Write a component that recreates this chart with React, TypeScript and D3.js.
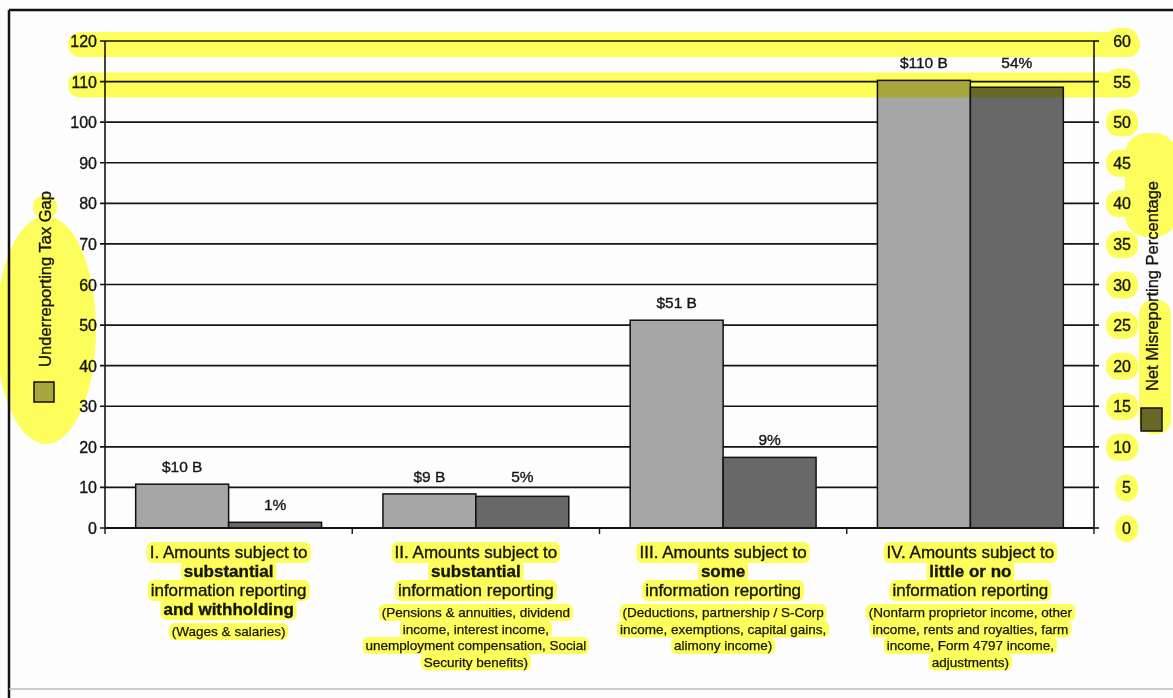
import React, { useEffect, useRef } from 'react';
import * as d3 from 'd3';

// values
const categories = ['I', 'II', 'III', 'IV'];
const gapValues = [10.8, 8.4, 51.2, 110.3];
const gapLabels = ['$10 B', '$9 B', '$51 B', '$110 B'];
const pctValues = [0.7, 3.9, 8.7, 54.3];
const pctLabels = ['1%', '5%', '9%', '54%'];
const leftTicks = [0, 10, 20, 30, 40, 50, 60, 70, 80, 90, 100, 110, 120];
const rightTicks = [0, 5, 10, 15, 20, 25, 30, 35, 40, 45, 50, 55, 60];
const highlightedLeftTicks = [120, 110];

const catTitles: [string, boolean][][] = [
  [['I. Amounts subject to', false], ['substantial', true], ['information reporting', false], ['and withholding', true]],
  [['II. Amounts subject to', false], ['substantial', true], ['information reporting', false]],
  [['III. Amounts subject to', false], ['some', true], ['information reporting', false]],
  [['IV. Amounts subject to', false], ['little or no', true], ['information reporting', false]],
];
const catNotes = [
  ['(Wages & salaries)'],
  ['(Pensions & annuities, dividend', 'income, interest income,', 'unemployment compensation, Social', 'Security benefits)'],
  ['(Deductions, partnership / S-Corp', 'income, exemptions, capital gains,', 'alimony income)'],
  ['(Nonfarm proprietor income, other', 'income, rents and royalties, farm', 'income, Form 4797 income,', 'adjustments)'],
];

const W = 1173;
const H = 698;
const FONT = '"Liberation Sans", Arial, sans-serif';
const YELLOW = '#ffff5c';
const INK = '#151515';

const App: React.FC = () => {
  const svgRef = useRef<SVGSVGElement>(null);

  useEffect(() => {
    if (!svgRef.current) return;
    const root = d3.select(svgRef.current);
    root.selectAll('*').remove();

    const left = 105, right = 1094, top = 41, bottom = 528;
    const y = d3.scaleLinear().domain([0, 120]).range([bottom, top]);
    const yR = d3.scaleLinear().domain([0, 60]).range([bottom, top]);
    const x0 = d3.scaleBand<string>().domain(categories).range([left, right]);
    const x1 = d3.scaleBand<string>().domain(['gap', 'pct']).range([0, x0.bandwidth()]).paddingOuter(0.33);

    root.append('rect').attr('width', W).attr('height', H).attr('fill', '#fdfdfd');

    // frame of the scanned page
    root.append('line').attr('x1', 9).attr('x2', W).attr('y1', 10).attr('y2', 10).attr('stroke', '#111').attr('stroke-width', 2.5);
    root.append('line').attr('x1', 9).attr('x2', 9).attr('y1', 10).attr('y2', H).attr('stroke', '#111').attr('stroke-width', 2.5);
    root.append('line').attr('x1', 9).attr('x2', W).attr('y1', 689).attr('y2', 689).attr('stroke', '#bbb').attr('stroke-width', 1.5);

    const g = root.append('g');
    const txt = (sel: d3.Selection<SVGTextElement, unknown, null, undefined>, size: number) =>
      sel.attr('font-family', FONT).attr('font-size', size).attr('fill', INK)
        .attr('stroke', INK).attr('stroke-width', 0.35);

    // grid + left ticks
    leftTicks.forEach(t => {
      g.append('line').attr('x1', left - 5).attr('x2', right).attr('y1', y(t)).attr('y2', y(t))
        .attr('stroke', '#141414').attr('stroke-width', 1.6);
      txt(g.append('text').attr('x', 97).attr('y', y(t) + 6).attr('text-anchor', 'end'), 16).text(t);
    });
    rightTicks.forEach(t => {
      g.append('line').attr('x1', right).attr('x2', right + 5).attr('y1', yR(t)).attr('y2', yR(t))
        .attr('stroke', '#141414').attr('stroke-width', 1.6);
    });
    g.append('line').attr('x1', left).attr('x2', left).attr('y1', top).attr('y2', bottom).attr('stroke', '#141414').attr('stroke-width', 1.6);
    g.append('line').attr('x1', right).attr('x2', right).attr('y1', top).attr('y2', bottom).attr('stroke', '#141414').attr('stroke-width', 1.6);
    [...categories.map(c => x0(c)!), right].forEach(xv => {
      g.append('line').attr('x1', xv).attr('x2', xv).attr('y1', bottom).attr('y2', bottom + 6).attr('stroke', '#141414').attr('stroke-width', 1.4);
    });

    // bars
    categories.forEach((c, i) => {
      const bx = x0(c)!;
      const yGap = y(gapValues[i]);
      const yPct = yR(pctValues[i]);
      g.append('rect').attr('x', bx + x1('gap')!).attr('y', yGap).attr('width', x1.bandwidth())
        .attr('height', bottom - yGap).attr('fill', '#a6a6a6').attr('stroke', '#111').attr('stroke-width', 1.5);
      g.append('rect').attr('x', bx + x1('pct')!).attr('y', yPct).attr('width', x1.bandwidth())
        .attr('height', bottom - yPct).attr('fill', '#686868').attr('stroke', '#111').attr('stroke-width', 1.5);
      // labels of neighbouring bars of similar height share one baseline
      const close = Math.abs(yGap - yPct) < 12;
      const yLabGap = close ? Math.min(yGap, yPct) - 12 : yGap - 12;
      const yLabPct = close ? Math.min(yGap, yPct) - 12 : yPct - 12;
      txt(g.append('text').attr('x', bx + x1('gap')! + x1.bandwidth() / 2).attr('y', yLabGap)
        .attr('text-anchor', 'middle'), 15.5).text(gapLabels[i]);
      txt(g.append('text').attr('x', bx + x1('pct')! + x1.bandwidth() / 2).attr('y', yLabPct)
        .attr('text-anchor', 'middle'), 15.5).text(pctLabels[i]);
    });
    g.append('line').attr('x1', left).attr('x2', right).attr('y1', bottom).attr('y2', bottom).attr('stroke', '#141414').attr('stroke-width', 1.8);

    // right tick labels
    const rightLabels = rightTicks.map(t =>
      txt(g.append('text').attr('x', 1131).attr('y', yR(t) + 6).attr('text-anchor', 'end'), 16).text(t)
    );

    // axis titles + legend swatches
    txt(g.append('text').attr('transform', 'translate(51,279) rotate(-90)').attr('text-anchor', 'middle'), 16.5)
      .text('Underreporting Tax Gap');
    g.append('rect').attr('x', 34).attr('y', 382).attr('width', 20).attr('height', 20)
      .attr('fill', '#a6a6a6').attr('stroke', '#111').attr('stroke-width', 1.5);
    txt(g.append('text').attr('transform', 'translate(1158,286) rotate(-90)').attr('text-anchor', 'middle'), 16.5)
      .text('Net Misreporting Percentage');
    g.append('rect').attr('x', 1141).attr('y', 408).attr('width', 21).attr('height', 23)
      .attr('fill', '#686868').attr('stroke', '#111').attr('stroke-width', 1.5);

    // category labels
    const catLines: d3.Selection<SVGTextElement, unknown, null, undefined>[] = [];
    categories.forEach((c, i) => {
      const cx = x0(c)! + x0.bandwidth() / 2;
      catTitles[i].forEach(([t, bold], j) => {
        catLines.push(txt(g.append('text').attr('x', cx).attr('y', 558 + j * 19).attr('text-anchor', 'middle')
          .attr('font-weight', bold ? 'bold' : 'normal'), 17).text(t));
      });
      const noteStart = 552 + 19 * (catTitles[i].length - 1) + 22;
      catNotes[i].forEach((t, j) => {
        catLines.push(txt(g.append('text').attr('x', cx).attr('y', noteStart + 5 + j * 16.5)
          .attr('text-anchor', 'middle'), 13.5).attr('stroke-width', 0.25).text(t));
      });
    });

    // highlighter marks, blended over everything
    const hl = root.append('g').style('mix-blend-mode', 'multiply').attr('fill', YELLOW);
    highlightedLeftTicks.forEach(t => {
      hl.append('rect').attr('x', 68).attr('y', y(t) - 9).attr('width', 1072).attr('height', 25).attr('rx', 12);
    });
    hl.append('ellipse').attr('cx', 46).attr('cy', 330).attr('rx', 50).attr('ry', 114);
    hl.append('circle').attr('cx', 45).attr('cy', 207).attr('r', 12);
    hl.append('rect').attr('x', 1125).attr('y', 133).attr('width', 52).attr('height', 104).attr('rx', 22);
    hl.append('rect').attr('x', 1139).attr('y', 300).attr('width', 32).attr('height', 134).attr('rx', 14);
    rightLabels.forEach(s => {
      const b = (s.node() as SVGTextElement).getBBox();
      hl.append('rect').attr('x', b.x - 7).attr('y', b.y - 5).attr('width', b.width + 14).attr('height', b.height + 10).attr('rx', 12);
    });
    catLines.forEach(s => {
      const b = (s.node() as SVGTextElement).getBBox();
      hl.append('rect').attr('x', b.x - 3).attr('y', b.y - 1).attr('width', b.width + 6).attr('height', b.height + 2).attr('rx', 6);
    });
  }, []);

  return (
    <svg ref={svgRef} width={W} height={H}
      style={{ position: 'absolute', left: 0, top: 0, display: 'block', background: '#fff' }} />
  );
};

export default App;
